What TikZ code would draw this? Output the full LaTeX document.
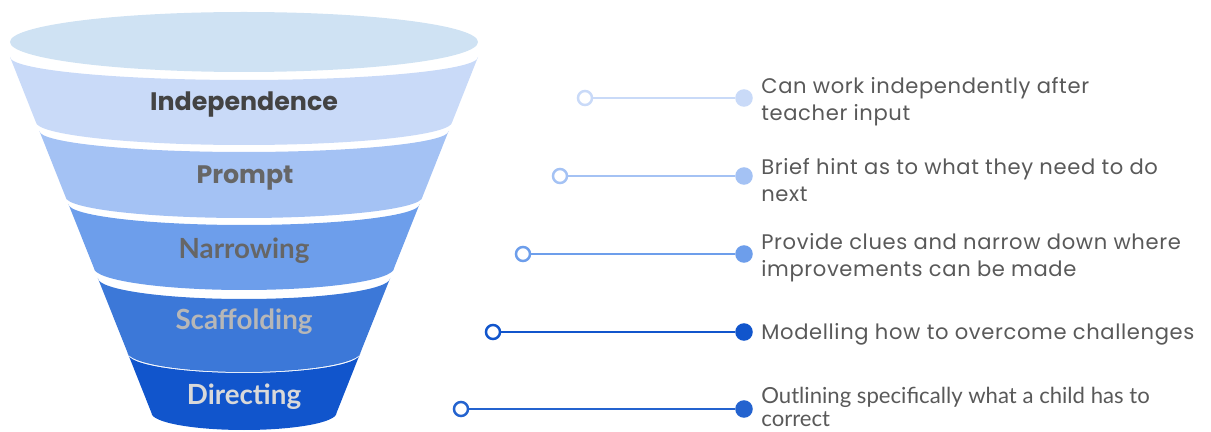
\documentclass[tikz,border=0pt]{standalone}
\usepackage{fontspec}
\setmainfont{Lato}
\newfontfamily\descfont[LetterSpace=3.0]{Poppins}
\newfontfamily\geofont{Poppins}
\newfontfamily\plainfont{Lato}

\definecolor{rim}{HTML}{CFE2F3}
\definecolor{bandA}{HTML}{C9DAF8}
\definecolor{bandB}{HTML}{A4C2F4}
\definecolor{bandC}{HTML}{6D9EEB}
\definecolor{bandD}{HTML}{3C78D8}
\definecolor{bandE}{HTML}{1155CC}
\definecolor{lineD}{HTML}{1155CC}
\definecolor{lineE}{HTML}{2463CF}
\definecolor{txtA}{HTML}{434343}
\definecolor{txtB}{HTML}{666666}
\definecolor{txtC}{HTML}{B7B7B7}
\definecolor{txtD}{HTML}{D9D9D9}
\definecolor{desctxt}{HTML}{595959}

% one slice of the funnel: top y, top half-width, top sag, bottom y, bottom half-width, bottom sag, colour
\newcommand{\funnelband}[7]{%
  \fill[#7] (244-#2,-#1) -- (244-#5,-#4)
    arc[start angle=180,end angle=360,x radius=#5,y radius=#6]
    -- (244+#2,-#1)
    arc[start angle=360,end angle=180,x radius=#2,y radius=#3] -- cycle;}

\tikzset{
  bandlabel/.style={font=\fontsize{15.8}{18}\selectfont\bfseries, anchor=base, inner sep=0pt},
  geolabel/.style={bandlabel, font=\geofont\fontsize{14.4}{18}\selectfont\bfseries},
  opendot/.style={circle, draw=#1, fill=white, line width=1.4pt, minimum size=8pt, inner sep=0pt},
  fulldot/.style={circle, fill=#1, minimum size=10pt, inner sep=0pt},
  link/.style={draw=#1, line width=1.5pt},
  desc/.style={font=\descfont\fontsize{12}{15.3}\selectfont, text=desctxt, anchor=west, align=left, inner sep=0pt},
  plaindesc/.style={desc, font=\plainfont\fontsize{12.6}{13.4}\selectfont}
}

\begin{document}
\begin{tikzpicture}[x=0.02cm,y=0.02cm]
\useasboundingbox (0,0) rectangle (1211,-432);

% funnel body
\funnelband{57}{234}{23}{122}{208.2}{23}{bandA}
\funnelband{131}{204.6}{21}{197}{178.4}{21}{bandB}
\funnelband{204}{175.6}{21}{268}{150.1}{22}{bandC}
\funnelband{278}{146.2}{21}{352}{116.7}{20}{bandD}
\funnelband{354}{115.9}{19}{413}{92.5}{17}{bandE}
% funnel mouth
\fill[rim] (244,-42) ellipse[x radius=234, y radius=30];

% level names
\node[geolabel, text=txtA] (l1) at (244,-111) {Independence};
\node[geolabel, text=txtB] (l2) at (245,-184) {Prompt};
\node[bandlabel, text=txtB] (l3) at (244,-259) {Narrowing};
\node[bandlabel, text=txtC] (l4) at (244,-330) {Scaffolding};
\node[bandlabel, text=txtD] (l5) at (244,-404) {Directing};

% leader lines
\node[opendot=bandA] (o1) at (585,-98) {};
\node[fulldot=bandA] (f1) at (744,-98) {};
\node[opendot=bandB] (o2) at (560,-176) {};
\node[fulldot=bandB] (f2) at (744,-176) {};
\node[opendot=bandC] (o3) at (523,-254) {};
\node[fulldot=bandC] (f3) at (744,-254) {};
\node[opendot=lineD] (o4) at (493,-332) {};
\node[fulldot=lineD] (f4) at (744,-332) {};
\node[opendot=lineE] (o5) at (461,-409) {};
\node[fulldot=lineE] (f5) at (744,-409) {};
\draw[link=bandA] (o1) -- (f1);
\draw[link=bandB] (o2) -- (f2);
\draw[link=bandC] (o3) -- (f3);
\draw[link=lineD] (o4) -- (f4);
\draw[link=lineE] (o5) -- (f5);

% descriptions
\node[desc] (t1) at (761,-102) {Can work independently after\\teacher input};
\node[desc] (t2) at (761,-180) {Brief hint as to what they need to do\\next};
\node[desc] (t3) at (761,-258) {Provide clues and narrow down where\\improvements can be made};
\node[desc, anchor=base west] (t4) at (761,-339) {Modelling how to overcome challenges};
\node[plaindesc] (t5) at (761,-407) {Outlining specifically what a child has to\\correct};
\end{tikzpicture}
\end{document}
